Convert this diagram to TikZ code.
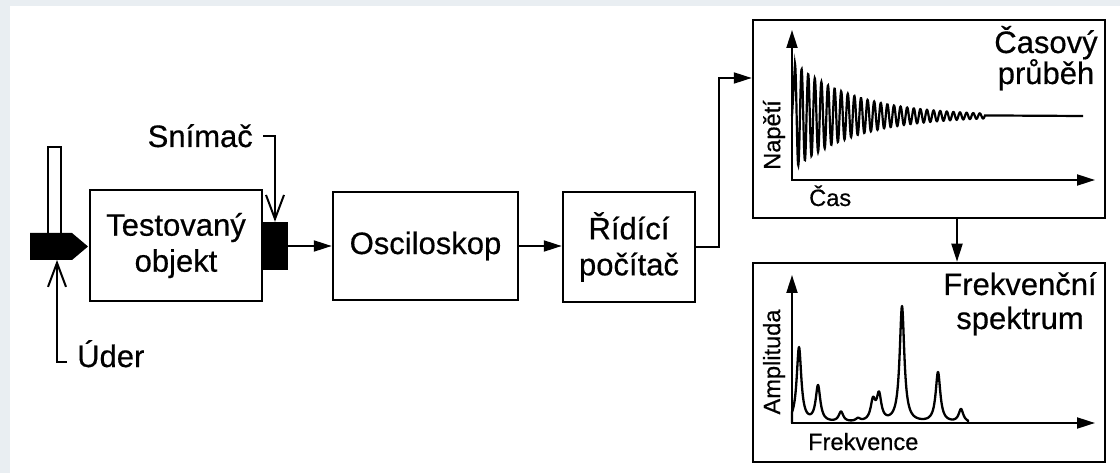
\documentclass[tikz,border=0pt]{standalone}
\usepackage{fontspec}
\setmainfont{Liberation Sans}[FakeBold=0.5]
\usetikzlibrary{arrows.meta}
\definecolor{bgc}{RGB}{233,238,242}
\begin{document}
\begin{tikzpicture}[x=1pt,y=-1pt,
  box/.style={draw,line width=2.5pt,align=center,font=\fontsize{31}{36}\selectfont,inner sep=0pt},
  conn/.style={line width=2pt,-{Triangle[length=18pt,width=11pt]}},
  barb/.style={line width=2pt,-{Straight Barb[length=24pt,width=18pt]}},
  lbl/.style={font=\fontsize{31}{32}\selectfont,inner sep=0pt},
  axlbl/.style={font=\fontsize{23.6}{24}\selectfont,inner sep=0pt},
  axes/.style={line width=2pt,{Triangle[length=18pt,width=11pt]}-{Triangle[length=18pt,width=11pt]}},
  declare function={
    sig(\t)=52*exp(-\t/62)*cos((\t/6.6)*360);
    lor(\t,\c,\h)=\h/(1+((\t-\c)/2.8)^2);
    spec(\t)=lor(\t,7,75)+lor(\t,26,36)+lor(\t,49,10)+lor(\t,66,3)+lor(\t,81,20)+lor(\t,87,26)+lor(\t,110,116)+lor(\t,146,50)+lor(\t,169,13);
  }]
\useasboundingbox (0,0) rectangle (1120,473);
\fill[bgc] (0,0) rectangle (1120,473);
\fill[white] (10,6) rectangle (1120,473);

% blocks
\node[box,minimum width=172pt,minimum height=111pt] (test) at (176,245.5) {Testovaný\\objekt};
\node[box,minimum width=185pt,minimum height=108pt] (osc) at (425.5,246) {Osciloskop};
\node[box,minimum width=132pt,minimum height=110pt] (pc) at (629,247) {Řídící\\počítač};
\node[draw,line width=2.5pt,minimum width=352pt,minimum height=198pt,inner sep=0pt] (cas) at (929,119) {};
\node[draw,line width=2.5pt,minimum width=352pt,minimum height=199pt,inner sep=0pt] (frek) at (929,362.5) {};

% hammer
\draw[line width=2pt,fill=white] (48,147) rectangle (61,236);
\fill[black] (30,233) -- (72,233) -- (88,246.5) -- (72,260) -- (30,260) -- cycle;
\coordinate (hamb) at (57,260);
\node[lbl,anchor=base west] (uder) at (77,367) {Úder};
\draw[barb] ([shift={(-10pt,5pt)}]uder.base west) -| (hamb);

% sensor
\node[fill=black,minimum width=26pt,minimum height=48pt,inner sep=0pt] (sensor) at (275,246) {};
\node[lbl,anchor=base east] (snimac) at (253,147) {Snímač};
\draw[barb] ([xshift=10pt]snimac.east) -| (sensor.north);

% connectors
\draw[conn] (sensor.east) -- (osc.west);
\draw[conn] (osc.east) -- (osc.east -| pc.west);
\draw[conn] (pc.east) -- ++(23,0) |- ([yshift=41pt]cas.west);
\draw[conn] ([xshift=28pt]cas.south) -- ([xshift=28pt]frek.north);

% time plot
\draw[axes] (792,30) |- (1095,180);
\node[axlbl,rotate=90] (nap) at (774,135) {Napětí};
\node[axlbl,anchor=base west] (cax) at (809,206) {Čas};
\node[lbl,anchor=base] (c1) at (1046,53) {Časový};
\node[lbl,anchor=base] (c2) at (1046,84) {průběh};
\draw[line width=2.2pt] (792,116) -- plot[domain=0:190,samples=800] ({795+\x},{116-sig(\x)}) -- (1083,116);

% spectrum plot
\draw[axes] (792,275) |- (1095,423);
\node[axlbl,rotate=90] (amp) at (774,362) {Amplituda};
\node[axlbl,anchor=base west] (fax) at (808,450) {Frekvence};
\node[lbl,anchor=base] (f1) at (1020,295) {Frekvenční};
\node[lbl,anchor=base] (f2) at (1020,329) {spektrum};
\draw[line width=2.3pt,line join=round] (792,423) -- plot[domain=0:176,samples=500] ({792+\x},{423-spec(\x)}) -- (968,423);
\end{tikzpicture}
\end{document}
